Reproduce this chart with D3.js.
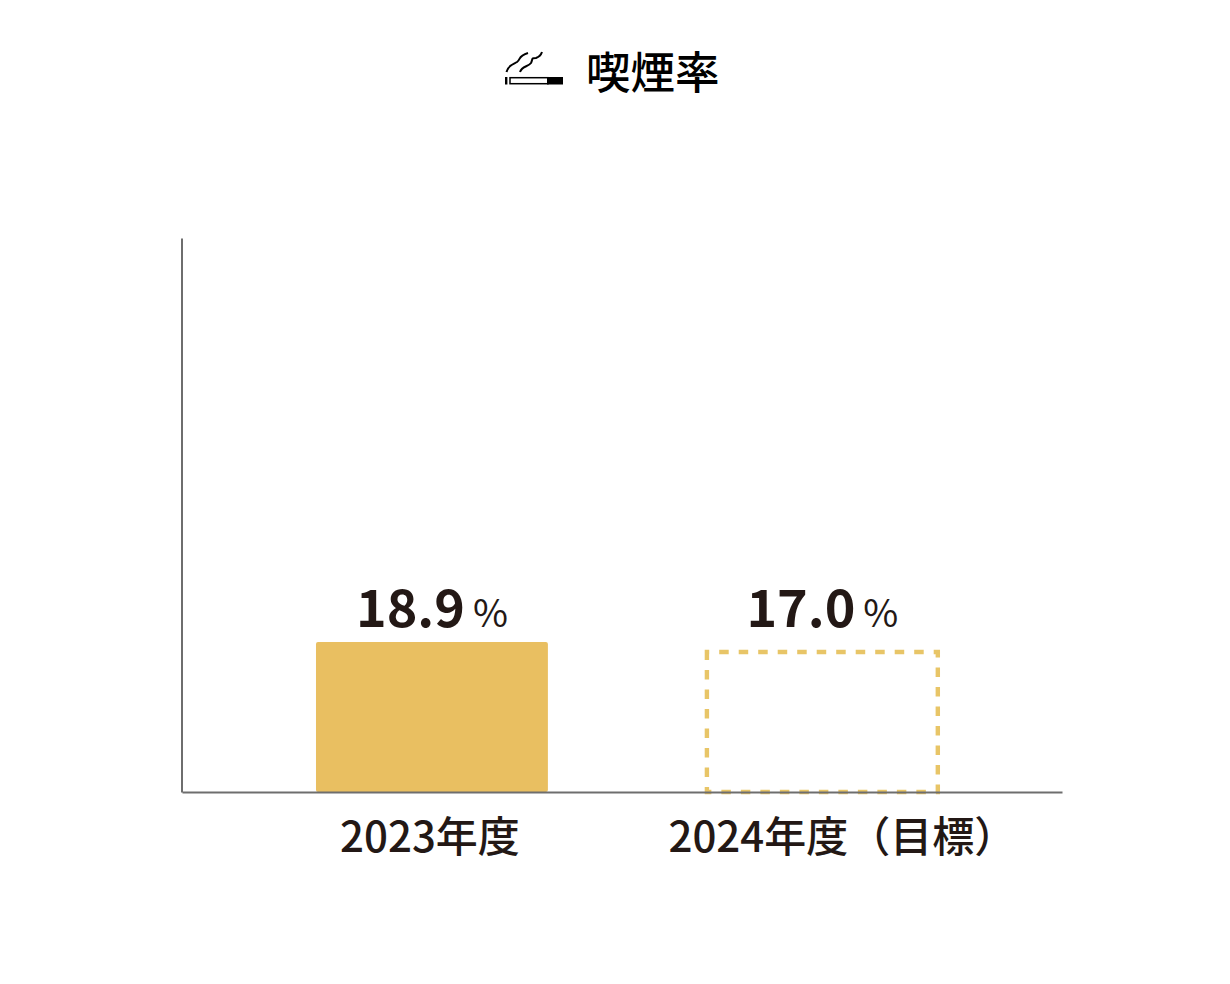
<!DOCTYPE html>
<html>
<head>
<meta charset="utf-8">
<script src="https://cdn.jsdelivr.net/npm/d3@7"></script>
<style>
body { margin: 0; background: #fff; }
svg { display: block; }
text { font-family: "Noto Sans CJK JP", "Noto Sans", sans-serif; fill: #231815; }
</style>
</head>
<body>
<svg id="chart"></svg>
<script>
var titleText = "喫煙率";
var years = ["2023年度", "2024年度（目標）"];
var values = [18.9, 17.0];
var valueLabels = ["18.9", "17.0"];
var isTarget = [false, true];

var screen = {width: 1230, height: 984};
var margins = {top: 238, right: 168, bottom: 192, left: 182};
var width = screen.width - margins.left - margins.right;
var height = screen.height - margins.top - margins.bottom;

var svg = d3.select("#chart")
    .attr("width", screen.width)
    .attr("height", screen.height);

var xScale = d3.scaleBand()
    .domain(years)
    .range([margins.left, margins.left + width])
    .paddingInner(0.406)
    .paddingOuter(0.33)
    .align(0.52);

// the picture has no y ticks, its bars are not drawn from zero, so domain is fitted to them
var yScale = d3.scaleLinear()
    .domain([-9.6, 95.7])
    .range([margins.top + height, margins.top]);

var baseY = margins.top + height;
var gold = "#e9bf61";

// title
svg.append("text")
    .attr("x", 586)
    .attr("y", 89)
    .style("font-size", "44.5px")
    .style("font-weight", 500)
    .style("fill", "#000")
    .text(titleText);

// cigarette icon
var icon = svg.append("g")
    .attr("transform", "translate(505,50)");
icon.append("rect").attr("x", 0).attr("y", 27).attr("width", 2.4).attr("height", 7.5).attr("fill", "#000");
icon.append("rect").attr("x", 5).attr("y", 27.7).attr("width", 38).attr("height", 6).attr("fill", "#fff").attr("stroke", "#000").attr("stroke-width", 1.5);
icon.append("rect").attr("x", 42).attr("y", 27).attr("width", 16).attr("height", 7.5).attr("fill", "#000");
icon.append("path")
    .attr("d", "M1.5,22 C3,15 9,14 12,12 C16,9 13,6 23,3")
    .attr("fill", "none").attr("stroke", "#000").attr("stroke-width", 2);
icon.append("path")
    .attr("d", "M15,22 C17,16 23,17 26,13 C28,9 26,8 31,8 C34,7 36,5 37,2")
    .attr("fill", "none").attr("stroke", "#000").attr("stroke-width", 2);

// bars
var bars = svg.append("g").attr("id", "bars");

bars.selectAll("rect.actual")
    .data(d3.range(values.length).filter(function(i) { return !isTarget[i]; }))
    .enter()
    .append("rect")
    .attr("class", "actual")
    .attr("x", function(i) { return xScale(years[i]); })
    .attr("y", function(i) { return yScale(values[i]); })
    .attr("width", xScale.bandwidth())
    .attr("height", function(i) { return baseY - yScale(values[i]); })
    .attr("rx", 2)
    .attr("fill", gold);

bars.selectAll("rect.target")
    .data(d3.range(values.length).filter(function(i) { return isTarget[i]; }))
    .enter()
    .append("rect")
    .attr("class", "target")
    .attr("x", function(i) { return xScale(years[i]) + 0.5; })
    .attr("y", function(i) { return yScale(values[i]); })
    .attr("width", xScale.bandwidth() - 1)
    .attr("height", function(i) { return baseY - yScale(values[i]); })
    .attr("fill", "none")
    .attr("stroke", "#e8c567")
    .attr("stroke-width", 4.4)
    .attr("stroke-dasharray", "9.5 10")
    .attr("stroke-dashoffset", 7.2);

// value labels
var labels = svg.append("g").attr("id", "labels")
    .selectAll("text")
    .data(d3.range(values.length))
    .enter()
    .append("text")
    .attr("x", function(i) { return xScale(years[i]) + xScale.bandwidth() / 2; })
    .attr("y", 627)
    .attr("text-anchor", "middle");

labels.append("tspan")
    .style("font-size", "52px")
    .style("font-weight", 700)
    .text(function(i) { return valueLabels[i]; });

labels.append("tspan")
    .attr("dx", 8)
    .style("font-size", "38px")
    .style("font-weight", 400)
    .text("%");

// axes
var xAxis = d3.axisBottom(xScale).tickSize(0).tickPadding(0);
var yAxis = d3.axisLeft(yScale).tickValues([]).tickSize(0);

var xG = svg.append("g")
    .attr("id", "xAxis")
    .attr("transform", "translate(0," + baseY + ")")
    .call(xAxis);

var yG = svg.append("g")
    .attr("id", "yAxis")
    .attr("transform", "translate(" + (margins.left - 0.5) + ",0)")
    .call(yAxis);

svg.selectAll("#xAxis .domain, #yAxis .domain")
    .attr("stroke", "#6e6e6e")
    .attr("stroke-width", 2);

xG.selectAll(".tick text")
    .attr("y", 60)
    .attr("dy", 0)
    .attr("dx", function(d, i) { return i == 1 ? 20 : -2; })
    .attr("font-family", null)
    .style("font-size", "42px")
    .style("font-weight", 500)
    .style("fill", "#231815");
</script>
</body>
</html>
